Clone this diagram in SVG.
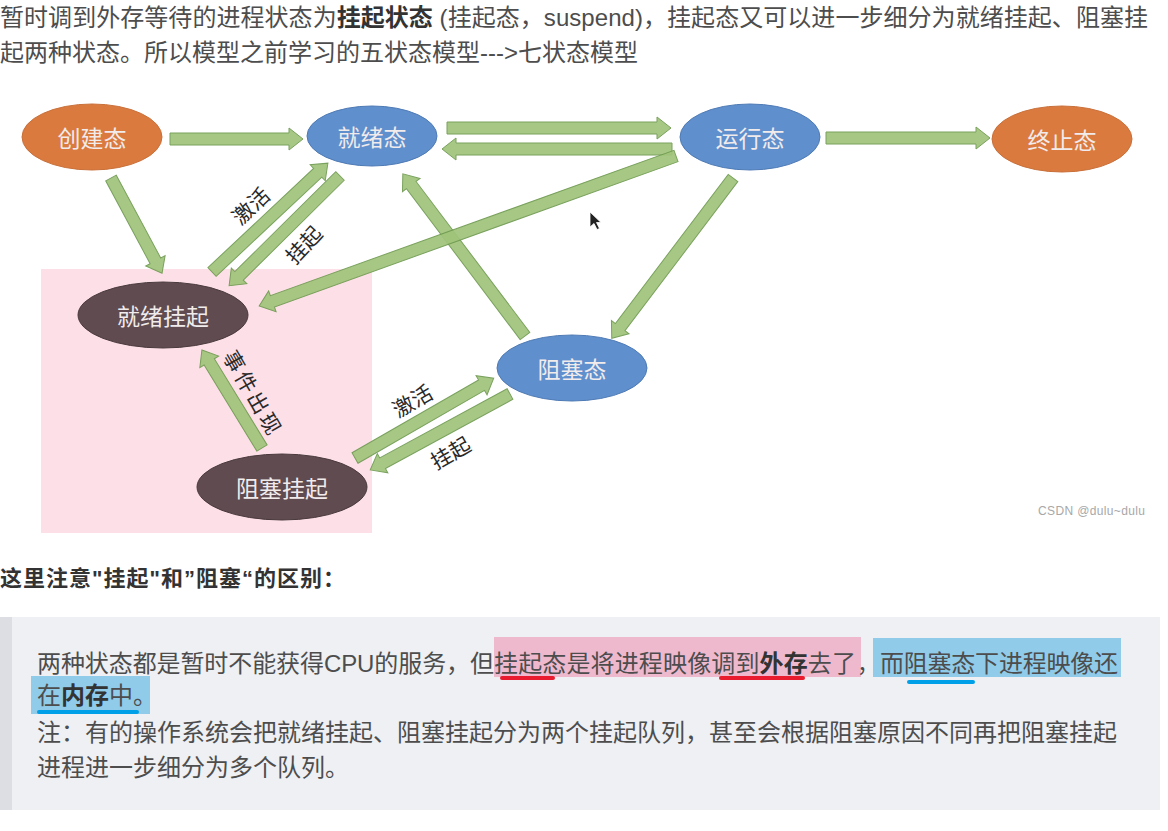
<svg xmlns="http://www.w3.org/2000/svg" width="1168" height="831" viewBox="0 0 1168 831">
<style>
.t{font-family:"Liberation Sans","Noto Sans CJK SC",sans-serif;font-size:24px;fill:#4d4d4d}
.b{font-weight:bold;fill:#333}
.arr{fill:#a0c47a;stroke:#6f9a50;stroke-width:1;opacity:0.92}
.nt{font-family:"Noto Sans CJK SC",sans-serif;font-size:23px;fill:#f1ebec;text-anchor:middle;dominant-baseline:central}
.lb{font-family:"Noto Sans CJK SC",sans-serif;font-size:21px;fill:#2a2a2a;text-anchor:middle;dominant-baseline:central}
.orange{fill:#db7a3e;stroke:#c9703a;stroke-width:1}
.blue{fill:#5f8fcd;stroke:#4f7bb5;stroke-width:1}
.brown{fill:#5f4b50;stroke:#4a3a3e;stroke-width:1}
.ul{stroke-width:4;stroke-linecap:round;fill:none}
</style>
<rect width="1168" height="831" fill="#ffffff"/>
<!-- top paragraph -->
<text class="t" x="0" y="26" textLength="1148">暂时调到外存等待的进程状态为<tspan class="b">挂起状态</tspan> (挂起态，suspend)，挂起态又可以进一步细分为就绪挂起、阻塞挂</text>
<text class="t" x="0" y="61" textLength="638">起两种状态。所以模型之前学习的五状态模型---&gt;七状态模型</text>

<!-- diagram -->
<rect x="41" y="269" width="331" height="264" fill="#fde0e7"/>
<g id="connectors">
<polygon class="arr" transform="translate(170,139)" points="0,-6 119,-6 119,-11 133,0 119,11 119,6 0,6"/>
<polygon class="arr" transform="translate(447,128)" points="0,-6 210,-6 210,-11 224,0 210,11 210,6 0,6"/>
<polygon class="arr" transform="translate(672,149) rotate(180)" points="0,-6 216,-6 216,-11 230,0 216,11 216,6 0,6"/>
<polygon class="arr" transform="translate(826,138)" points="0,-6 150,-6 150,-11 164,0 150,11 150,6 0,6"/>
<polygon class="arr" transform="translate(111,178) rotate(61.8)" points="0,-6 94,-6 94,-11 108,0 94,11 94,6 0,6"/>
<polygon class="arr" transform="translate(212,272) rotate(-43.2)" points="0,-6 145,-6 145,-11 159,0 145,11 145,6 0,6"/>
<polygon class="arr" transform="translate(340,176) rotate(135.3)" points="0,-6 142,-6 142,-11 156,0 142,11 142,6 0,6"/>
<polygon class="arr" transform="translate(525,336) rotate(-127)" points="0,-6 189,-6 189,-11 203,0 189,11 189,6 0,6"/>
<polygon class="arr" transform="translate(676,156) rotate(160.2)" points="0,-6 429,-6 429,-11 443,0 429,11 429,6 0,6"/>
<polygon class="arr" transform="translate(733,178) rotate(127.1)" points="0,-6 187,-6 187,-11 201,0 187,11 187,6 0,6"/>
<polygon class="arr" transform="translate(262,448) rotate(-121.5)" points="0,-6 101,-6 101,-11 115,0 101,11 101,6 0,6"/>
<polygon class="arr" transform="translate(355,458) rotate(-29.9)" points="0,-6 146,-6 146,-11 160,0 146,11 146,6 0,6"/>
<polygon class="arr" transform="translate(510,394) rotate(151.5)" points="0,-6 145,-6 145,-11 159,0 145,11 145,6 0,6"/>
<text class="lb" transform="translate(250,205) rotate(-43)">激活</text>
<text class="lb" transform="translate(303,244) rotate(-47)">挂起</text>
<text class="lb" transform="translate(254,393) rotate(60)" letter-spacing="3">事件出现</text>
<text class="lb" transform="translate(412,400) rotate(-30)">激活</text>
<text class="lb" transform="translate(450,452) rotate(-30)">挂起</text>
</g>
<g id="n-create"><ellipse class="orange" cx="92" cy="137" rx="70" ry="33"/><text class="nt" x="92" y="137">创建态</text></g>
<g id="n-ready"><ellipse class="blue" cx="372" cy="136" rx="65" ry="30"/><text class="nt" x="372" y="136">就绪态</text></g>
<g id="n-run"><ellipse class="blue" cx="750" cy="137" rx="70" ry="33"/><text class="nt" x="750" y="137">运行态</text></g>
<g id="n-exit"><ellipse class="orange" cx="1062" cy="139" rx="70" ry="33"/><text class="nt" x="1062" y="139">终止态</text></g>
<g id="n-readysusp"><ellipse class="brown" cx="163" cy="315" rx="85" ry="33"/><text class="nt" x="163" y="315">就绪挂起</text></g>
<g id="n-blocksusp"><ellipse class="brown" cx="282" cy="487" rx="85" ry="33"/><text class="nt" x="282" y="487">阻塞挂起</text></g>
<g id="n-block"><ellipse class="blue" cx="572" cy="368" rx="75" ry="33"/><text class="nt" x="572" y="368">阻塞态</text></g>
<polygon points="590,212 590,227 594,223.5 597,229.5 599.5,228.5 596.5,222.5 601,222.5" fill="#222" stroke="#fff" stroke-width="0.8"/>
<text x="1038" y="515" textLength="107" style="font-family:'Liberation Sans',sans-serif;font-size:12px;fill:#a8a8a8">CSDN @dulu~dulu</text>

<!-- heading -->
<text class="t b" x="0" y="586" textLength="345" style="font-size:22px">这里注意"挂起"和”阻塞“的区别：</text>

<!-- blockquote -->
<rect x="0" y="617" width="1160" height="193" fill="#eef0f4"/>
<rect x="0" y="617" width="12" height="193" fill="#dcdee4"/>
<rect x="494" y="637" width="367" height="40" fill="#efb9cd"/>
<rect x="873" y="638" width="248" height="39" fill="#90cbea"/>
<rect x="31" y="676" width="119" height="38" fill="#90cbea"/>
<text class="t" x="37" y="672" textLength="457">两种状态都是暂时不能获得CPU的服务，但</text>
<text class="t" x="494" y="672" textLength="362">挂起态是将进程映像调到<tspan class="b">外存</tspan>去了</text>
<text class="t" x="857" y="672" style="font-size:22px">，</text>
<text class="t" x="880" y="672" textLength="238">而阻塞态下进程映像还</text>
<text class="t" x="37" y="704">在<tspan class="b">内存</tspan>中。</text>
<text class="t" x="37" y="741" textLength="1080">注：有的操作系统会把就绪挂起、阻塞挂起分为两个挂起队列，甚至会根据阻塞原因不同再把阻塞挂起</text>
<text class="t" x="37" y="776">进程进一步细分为多个队列。</text>
<line class="ul" x1="502" y1="678" x2="553" y2="678" stroke="#e81c2e"/>
<line class="ul" x1="721" y1="678" x2="803" y2="678" stroke="#e81c2e"/>
<line class="ul" x1="909" y1="682" x2="973" y2="682" stroke="#00a0e8"/>
<line class="ul" x1="39" y1="712" x2="137" y2="712" stroke="#00a0e8"/>
</svg>
